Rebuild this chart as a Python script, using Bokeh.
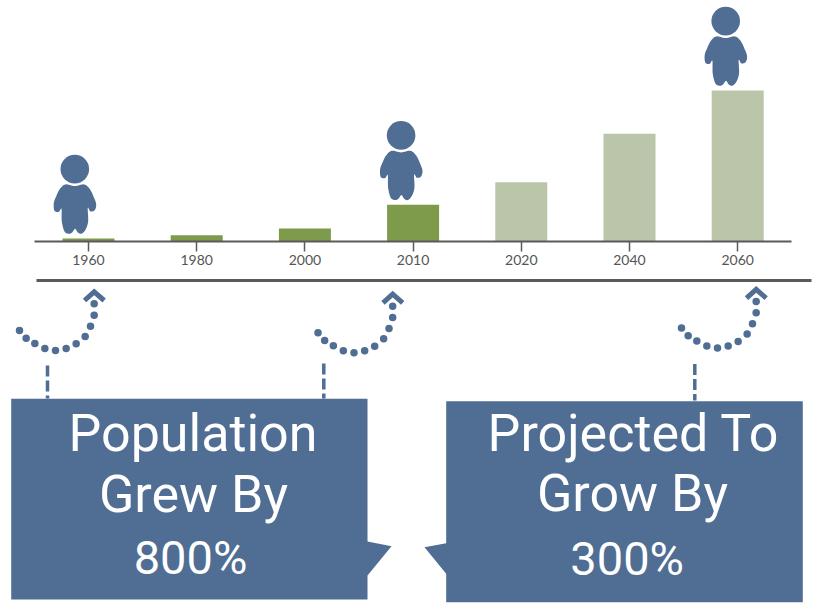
from bokeh.plotting import figure
from bokeh.models import Range1d, LinearAxis, FixedTicker
from bokeh.embed import file_html
from bokeh.resources import INLINE
from bokeh.core.properties import value as V

# ---- chart data ----
years = ["1960", "1980", "2000", "2010", "2020", "2040", "2060"]
values = [2.7, 6.0, 12.7, 36.4, 59.0, 107.4, 150.7]
projected = [False, False, False, False, True, True, True]
people_at = ["1960", "2010", "2060"]
box_left_lines = ["Population", "Grew By", "800%"]
box_right_lines = ["Projected To", "Grow By", "300%"]

# ---- styles ----
BLUE = "#506D94"
GREEN = "#7D9B4B"
PALE = "#BAC5A9"
RULE = "#5A5A5A"

# ---- geometry of the picture (reference pixels) ----
W, H = 816, 603
X0, X1 = 0, 816      # reference x shown by the frame
Y0, Y1 = 0, 603      # reference y shown by the frame
BASE = 240.7         # y of the value axis
FIRST = 88.0         # x of the first category
STEP = 108.2         # distance between categories
TEXT_SHIFT = -18.5   # lifts the box texts onto their baselines

p = figure(width=W, height=H, output_backend="svg", toolbar_location=None,
           x_axis_type=None, y_axis_type=None, min_border=0,
           x_range=Range1d((X0 - FIRST) / STEP, (X1 - FIRST) / STEP),
           y_range=Range1d(BASE - Y1, BASE - Y0))
p.extra_x_ranges = {"px": Range1d(X0, X1)}
p.extra_y_ranges = {"px": Range1d(Y1, Y0)}
p.outline_line_color = None
p.grid.visible = False
p.background_fill_color = "white"
PX = dict(x_range_name="px", y_range_name="px")

idx = list(range(len(years)))

# bars
p.vbar(x=idx, top=values, bottom=0, width=52 / STEP,
       fill_color=[PALE if f else GREEN for f in projected], line_color=None)

# axis
axis = LinearAxis(fixed_location=0,
                  ticker=FixedTicker(ticks=idx),
                  major_label_overrides={i: y for i, y in enumerate(years)},
                  bounds=((34 - FIRST) / STEP, (791 - FIRST) / STEP),
                  axis_line_color=RULE, axis_line_width=2,
                  major_tick_line_color=RULE, major_tick_line_width=1.5,
                  major_tick_in=0, major_tick_out=10,
                  minor_tick_line_color=None,
                  major_label_standoff=4,
                  major_label_text_font="Lato", major_label_text_font_size="14px",
                  major_label_text_color="#555555")
p.add_layout(axis, "below")

# heavy rule under the chart
p.line([36, 811], [280, 280], line_color=RULE, line_width=3, **PX)


def smooth(pts, n=8):
    """Closed Catmull-Rom curve through pts."""
    out_x, out_y = [], []
    m = len(pts)
    for i in range(m):
        a, b, c, d = pts[i - 1], pts[i], pts[(i + 1) % m], pts[(i + 2) % m]
        for k in range(n):
            t = k / n
            f = lambda q: 0.5 * (2 * b[q] + (c[q] - a[q]) * t
                                 + (2 * a[q] - 5 * b[q] + 4 * c[q] - d[q]) * t * t
                                 + (3 * b[q] - a[q] - 3 * c[q] + d[q]) * t ** 3)
            out_x.append(f(0))
            out_y.append(f(1))
    return out_x, out_y


# person outline, relative to the head centre, traced at 3x
BODY = [(195, 549), (223, 554), (251, 549), (268, 563), (279, 585), (287, 608),
        (283, 626), (270, 630), (262, 620), (263, 660), (255, 685), (243, 697),
        (232, 693), (224, 682), (215, 693), (205, 697), (192, 690), (184, 660),
        (183, 622), (175, 631), (162, 628), (160, 605), (167, 585), (178, 563)]
BODY = [((x - 223) / 3, (y - 503) / 3) for x, y in BODY]
bx, by = smooth(BODY)

for year, off in zip(people_at, [-13.7, -12.0, -12.0]):
    i = years.index(year)
    cx = FIRST + i * STEP + off
    cy = BASE - values[i] - 4.8 - 64.6
    p.patch([cx + v for v in bx], [cy + v for v in by], fill_color=BLUE, line_color=None, **PX)
    p.scatter([cx], [cy], size=28.6, marker="circle", fill_color=BLUE, line_color=None, **PX)

# dotted arrows, traced at 3x in the first arrow's frame
ARC = [(57, 150), (77, 173), (103, 189), (133, 204), (165, 210), (197, 204),
       (227, 190), (254, 168), (270, 137), (281, 104), (281, 70)]
CHEV = [(252, 60), (281, 34), (311, 60)]
for dx, dy, dash_x, dash_top, dash_end in [(0, 0, 47, 365, 398),
                                            (298.5, 2.3, 323.3, 363, 398),
                                            (662, -2.4, 694.3, 363.5, 400)]:
    p.scatter([x / 3 + dx for x, _ in ARC], [280 + y / 3 + dy for _, y in ARC],
              size=7.5, marker="circle", fill_color=BLUE, line_color=None, **PX)
    p.line([x / 3 + dx for x, _ in CHEV], [280 + y / 3 + dy for _, y in CHEV],
           line_color=BLUE, line_width=5, line_join="miter", **PX)
    p.line([dash_x, dash_x], [dash_top, dash_end], line_color=BLUE, line_width=3.5,
           line_dash="11 4", **PX)

# call-out boxes
p.patch([10.7, 367, 367, 391, 367, 367, 10.7], [398.3, 398.3, 541, 545.7, 575, 599, 599],
        fill_color=BLUE, line_color=None, **PX)
p.patch([445.7, 802.3, 802.3, 445.7, 445.7, 424, 445.7],
        [400.7, 400.7, 601.7, 601.7, 573.3, 546.7, 542.7],
        fill_color=BLUE, line_color=None, **PX)

for lines, xs, ys in [(box_left_lines, [192.5, 193, 190], [451.7, 512.3, 575]),
                      (box_right_lines, [633, 632, 626.7], [451, 511.7, 576.7])]:
    for k, (t, x, y) in enumerate(zip(lines, xs, ys)):
        p.text([x], [y + TEXT_SHIFT], text=[t], text_color="white", text_align="center",
               text_baseline="alphabetic", text_font=V("Roboto"),
               text_font_size="47px" if k == 2 else "52px", **PX)

open("out.html", "w").write(file_html(p, INLINE))
